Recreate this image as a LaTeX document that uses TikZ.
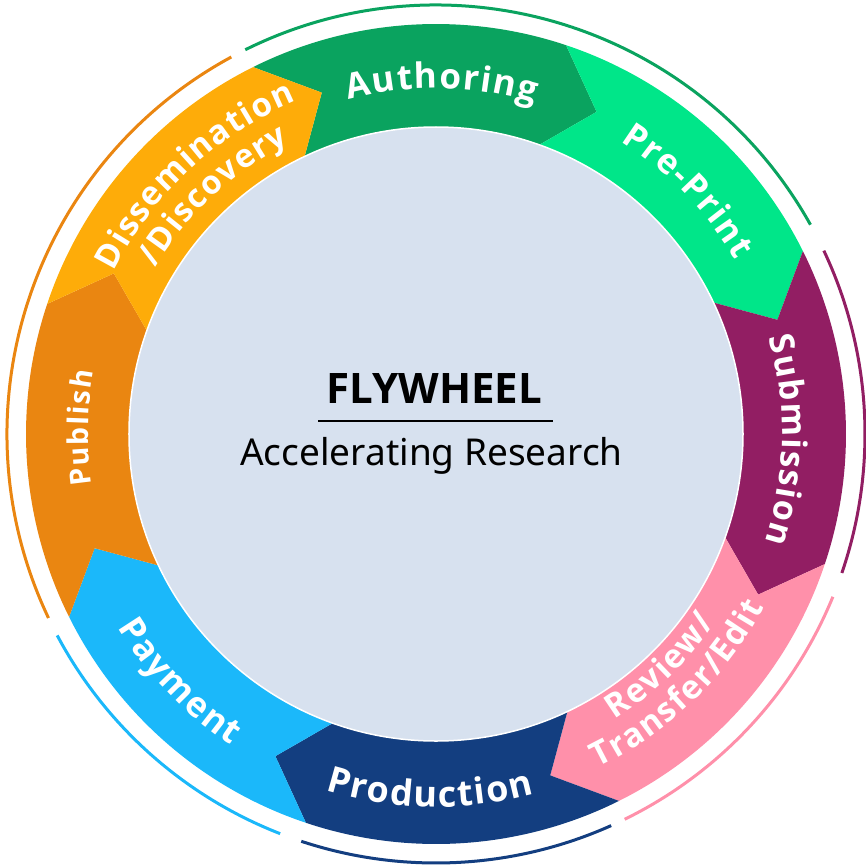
\documentclass[tikz,border=0pt]{standalone}
\usepackage{fontspec}
\setmainfont{Noto Sans}
\newfontfamily\heavysans{Open Sans}
\usetikzlibrary{decorations.text}
\definecolor{authgreen}{RGB}{10,163,95}
\definecolor{printgreen}{RGB}{0,230,137}
\definecolor{submitpurple}{RGB}{146,30,99}
\definecolor{reviewpink}{RGB}{255,144,170}
\definecolor{prodblue}{RGB}{19,62,128}
\definecolor{payblue}{RGB}{27,184,250}
\definecolor{puborange}{RGB}{234,134,17}
\definecolor{dissyellow}{RGB}{254,172,9}
\definecolor{hubfill}{RGB}{215,225,239}
\newcommand{\ringfont}[1]{\heavysans\fontsize{#1}{#1}\selectfont\bfseries}
\tikzstyle{hub} = [circle, fill=hubfill, draw=white, line width=1.5pt, minimum size=614pt, inner sep=0pt]
\tikzstyle{rim} = [line width=3pt]
\tikzstyle{ringtext} = [decorate, decoration={text effects along path, text align=center, text effects/.cd, text along path}]
% one arrow piece of the wheel: colour, start angle (counter-clockwise side)
\newcommand{\wheelpart}[2]{\fill[#1] (#2:410) arc[start angle=#2, end angle=#2-45, radius=410] -- ({#2-53}:360) -- ({#2-45}:300) arc[start angle=#2-45, end angle=#2, radius=300] -- ({#2-8}:360) -- cycle;}
% curved labels: centre angle, baseline radius, font size, text
\newcommand{\toplabel}[4]{\path[ringtext, decoration={text={#4}, text effects/characters={font=\ringfont{#3}, text=white}, text effects/character widths={inner xsep=0.75pt, font=\ringfont{#3}}}] ({#1+40}:#2) arc[start angle={#1+40}, end angle={#1-40}, radius=#2];}
\newcommand{\bottomlabel}[4]{\path[ringtext, decoration={text={#4}, text effects/characters={font=\ringfont{#3}, text=white}, text effects/character widths={inner xsep=0.75pt, font=\ringfont{#3}}}] ({#1-40}:#2) arc[start angle={#1-40}, end angle={#1+40}, radius=#2];}
\begin{document}
\begin{tikzpicture}[x=1pt, y=1pt]
\useasboundingbox (-436,-431) rectangle (430,434);

\wheelpart{authgreen}{116.5}
\wheelpart{printgreen}{71.5}
\wheelpart{submitpurple}{26.5}
\wheelpart{reviewpink}{-18.5}
\wheelpart{prodblue}{-63.5}
\wheelpart{payblue}{-108.5}
\wheelpart{puborange}{-153.5}
\wheelpart{dissyellow}{161.5}

\node (hub) [hub] at (0,0) {};

\toplabel{89}{345.5}{35}{Authoring}
\toplabel{44}{346}{34.5}{Pre-Print}
\toplabel{-1}{346}{34}{Submission}
\toplabel{179}{348}{28.5}{Publish}
\toplabel{133}{361}{33}{Dissemination}
\toplabel{133}{326}{32.5}{/Discovery}
\bottomlabel{-91}{373}{36}{Production}
\bottomlabel{-136}{372.5}{35}{Payment}
\bottomlabel{-46}{337}{33}{Review/}
\bottomlabel{-46}{371}{33}{Transfer/Edit}

\draw[rim, authgreen] (116.4:429) arc[start angle=116.4, end angle=29.2, radius=429];
\draw[rim, submitpurple] (25.3:429) arc[start angle=25.3, end angle=-18.9, radius=429];
\draw[rim, reviewpink] (-22.3:429) arc[start angle=-22.3, end angle=-63.9, radius=429];
\draw[rim, prodblue] (-65.9:429) arc[start angle=-65.9, end angle=-108.3, radius=429];
\draw[rim, payblue] (-111.3:429) arc[start angle=-111.3, end angle=-152, radius=429];
\draw[rim, puborange] (205.4:429) arc[start angle=205.4, end angle=118.5, radius=429];

\node (title) [anchor=base, font=\heavysans\fontsize{42}{44}\selectfont\bfseries] at (-1.5,31) {FLYWHEEL};
\draw[line width=2pt] (-118,13) -- (117,13);
\node (subtitle) [anchor=base, font=\fontsize{37}{39}\selectfont] at (-4.5,-31) {Accelerating Research};
\end{tikzpicture}
\end{document}
